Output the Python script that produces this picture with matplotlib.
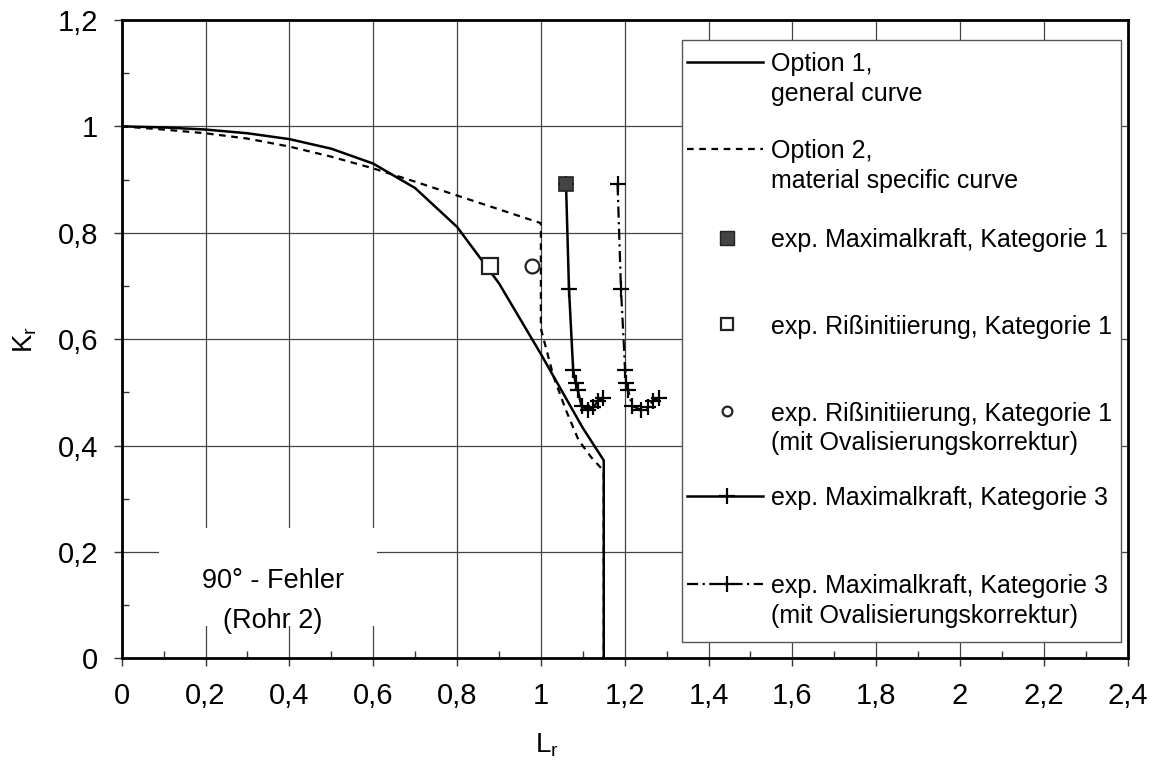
import matplotlib
matplotlib.use("Agg")
import matplotlib.pyplot as plt
from matplotlib.patches import Rectangle
from matplotlib.lines import Line2D
from matplotlib.ticker import MultipleLocator, FuncFormatter

plt.rcParams['font.family'] = ['Liberation Sans', 'DejaVu Sans']

# Option 1 - general curve
opt1_x = [0, 0.1, 0.2, 0.3, 0.4, 0.5, 0.6, 0.7, 0.8, 0.9, 1.0, 1.1, 1.15, 1.15]
opt1_y = [1.0, 0.998, 0.994, 0.987, 0.976, 0.958, 0.930, 0.884, 0.811, 0.705, 0.572, 0.433, 0.372, 0.0]

# Option 2 - material specific curve
opt2_x = [0, 0.1, 0.2, 0.3, 0.4, 0.5, 0.6, 0.7, 0.8, 0.9, 1.0, 1.0, 1.01, 1.03, 1.06, 1.09, 1.12, 1.15, 1.15]
opt2_y = [1.0, 0.994, 0.987, 0.977, 0.962, 0.943, 0.921, 0.896, 0.870, 0.844, 0.818, 0.62, 0.59, 0.53, 0.466, 0.41, 0.378, 0.352, 0.0]

# experimental points, Kategorie 1
cat1_max_x, cat1_max_y = [1.060], [0.891]
cat1_init_x, cat1_init_y = [0.879], [0.738]
cat1_oval_x, cat1_oval_y = [0.980], [0.738]

# Kategorie 3 (with and without ovalisation correction)
cat3_x = [1.060, 1.067, 1.077, 1.083, 1.088, 1.097, 1.113, 1.125, 1.137, 1.148]
cat3_y = [0.891, 0.695, 0.542, 0.517, 0.504, 0.474, 0.467, 0.472, 0.484, 0.490]
cat3o_x = [1.183, 1.191, 1.201, 1.204, 1.208, 1.218, 1.240, 1.255, 1.268, 1.282]
cat3o_y = [0.891, 0.695, 0.542, 0.517, 0.504, 0.474, 0.467, 0.472, 0.484, 0.490]

legend_lines = [
    ["Option 1,", "general curve"],
    ["Option 2,", "material specific curve"],
    ["exp. Maximalkraft, Kategorie 1"],
    ["exp. Rißinitiierung, Kategorie 1"],
    ["exp. Rißinitiierung, Kategorie 1", "(mit Ovalisierungskorrektur)"],
    ["exp. Maximalkraft, Kategorie 3"],
    ["exp. Maximalkraft, Kategorie 3", "(mit Ovalisierungskorrektur)"],
]
note = ["90° - Fehler", "(Rohr 2)"]

fig = plt.figure(figsize=(11.6, 7.62), dpi=100)
ax = fig.add_axes([0.1049, 0.1361, 0.8673, 0.8377])

lw = 1.8
dot_style = dict(color='black', lw=1.6, dashes=(3, 2.5))
dashdot_style = dict(color='black', lw=1.6, dashes=(5, 2, 1, 2))
plus_style = dict(marker='+', ms=12, mew=1.6)

ax.plot(opt1_x, opt1_y, color='black', lw=lw, zorder=3)
ax.plot(opt2_x, opt2_y, zorder=3, **dot_style)
ax.plot(cat3_x, cat3_y, color='black', lw=lw, zorder=3, **plus_style)
ax.plot(cat3o_x, cat3o_y, zorder=3, **dashdot_style, **plus_style)
ax.plot(cat1_max_x, cat1_max_y, 's', ms=10, mfc='#444444', mec='#222222', mew=1.2, zorder=4)
ax.plot(cat1_init_x, cat1_init_y, 's', ms=11, mfc='white', mec='#222222', mew=1.6, zorder=4)
ax.plot(cat1_oval_x, cat1_oval_y, 'o', ms=10, mfc='white', mec='#222222', mew=1.6, zorder=4)

ax.set_xlim(0, 2.4)
ax.set_ylim(0, 1.2)
ax.xaxis.set_major_locator(MultipleLocator(0.2))
ax.xaxis.set_minor_locator(MultipleLocator(0.1))
ax.yaxis.set_major_locator(MultipleLocator(0.2))
ax.yaxis.set_minor_locator(MultipleLocator(0.1))
fmt = FuncFormatter(lambda v, p: ("%g" % round(v, 2)).replace('.', ','))
ax.xaxis.set_major_formatter(fmt)
ax.yaxis.set_major_formatter(fmt)
ax.tick_params(which='major', direction='out', length=6, width=1, labelsize=21, pad=11, color='#333333')
ax.tick_params(which='minor', direction='in', length=5, width=1, color='#333333')
ax.grid(True, which='major', color='#444444', lw=0.9)
ax.set_axisbelow(True)
for s in ax.spines.values():
    s.set_linewidth(2)

# note box
ax.add_patch(Rectangle((0.09, 0.06), 0.52, 0.185, facecolor='white', edgecolor='none', zorder=1.5))
ax.text(0.36, 0.145, note[0], fontsize=19.5, ha='center', va='center', zorder=2)
ax.text(0.36, 0.07, note[1], fontsize=19.5, ha='center', va='center', zorder=2)

# legend box drawn in axes coordinates
tr = ax.transAxes
ax.add_patch(Rectangle((0.5573, 0.0248), 0.4355, 0.944, transform=tr, facecolor='white',
                       edgecolor='#555555', lw=1, zorder=5))
rows = [0.9342, 0.7979, 0.6589, 0.5233, 0.3874, 0.2543, 0.1164]
hx0, hx1, hm, tx = 0.5620, 0.6375, 0.6014, 0.6451
handles = [
    dict(color='black', lw=lw),
    dot_style,
    None, None, None,
    dict(color='black', lw=lw),
    dashdot_style,
]
for i, y in enumerate(rows):
    h = handles[i]
    if h is not None:
        ax.add_line(Line2D([hx0, hx1], [y, y], transform=tr, zorder=6, **h))
    if i in (5, 6):
        ax.add_line(Line2D([hm], [y], transform=tr, color='black', zorder=6, **plus_style))
    if i == 2:
        ax.add_line(Line2D([hm], [y], transform=tr, marker='s', ms=10, mfc='#444444', mec='#222222', zorder=6))
    if i == 3:
        ax.add_line(Line2D([hm], [y], transform=tr, marker='s', ms=8, mfc='white', mec='#222222', mew=1.6, zorder=6))
    if i == 4:
        ax.add_line(Line2D([hm], [y], transform=tr, marker='o', ms=7, mfc='white', mec='#222222', mew=1.6, zorder=6))
    for j, line in enumerate(legend_lines[i]):
        ax.text(tx, y - j * 0.0465, line, transform=tr, fontsize=18, ha='left', va='center_baseline', zorder=7)

fig.text(547 / 1160, 1 - 745 / 762, r'L$_\mathregular{r}$', fontsize=20, ha='center', va='center')
fig.text(25 / 1160, 1 - 339 / 762, r'K$_\mathregular{r}$', fontsize=20, ha='center', va='center', rotation=90)

fig.savefig("out.png", dpi=100)
